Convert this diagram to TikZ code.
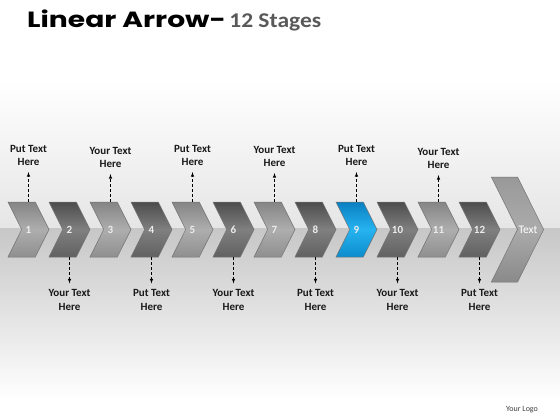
\documentclass[tikz,border=0pt]{standalone}
\usepackage{fontspec}
\setmainfont{Carlito}
\newfontfamily\headfont{Poppins}[FakeStretch=1.28]
\newfontfamily\stagefont{Carlito}[FakeStretch=1.12]
\usetikzlibrary{shapes.symbols,positioning}

\tikzset{	PixAxes/.style={x={(1pt,0pt)},y={(0pt,-1pt)}},
	chev/.style={signal, signal from=west, signal to=east, signal pointer angle=127,
		minimum width=41pt, minimum height=55pt, inner sep=0pt, draw=black!55, line width=0.5pt,
		font=\bfseries\fontsize{11}{13}\selectfont, text=white!93!black},
	chevLight/.style={chev, top color=black!48, bottom color=black!44, middle color=black!32},
	chevDark/.style={chev, top color=black!70, bottom color=black!62, middle color=black!50},
	chevBlue/.style={chev, top color=blueD, bottom color=blueM, middle color=blueL},
	txtlbl/.style={align=center, font=\bfseries\fontsize{11}{13.5}\selectfont, text=black!90, inner sep=2pt},
	dashArr/.style={->, densely dashed, line width=0.6pt, shorten >=4pt}
				}
\definecolor{blueD}{rgb}{0.04,0.50,0.76}
\definecolor{blueM}{rgb}{0.05,0.55,0.80}
\definecolor{blueL}{rgb}{0.15,0.70,0.94}

\begin{document}
\begin{tikzpicture}[>=latex, PixAxes]

	% hintergrund
	\useasboundingbox (0,0) rectangle (560,420);
	\fill[white] (0,0) rectangle (560,420);
	\shade[top color=white, bottom color=black!10] (0,80) rectangle (560,228);
	\shade[top color=black!22, bottom color=white] (0,228) rectangle (560,400);

	% titel
	\node[anchor=base west, inner sep=0pt, font=\headfont\bfseries\fontsize{22}{26}\selectfont] (title) at (27,27.5) {Linear Arrow-};
	\node[anchor=base west, inner sep=0pt, text=black!65, font=\stagefont\bfseries\fontsize{21}{26}\selectfont] (stages) at ([xshift=3pt]title.base east) {12 Stages};

	% pfeile 1-12
	\node[chevLight] (s1) at (28.5,229.5) {1};
	\node[chevDark] (s2) at (69.5,229.5) {2};
	\node[chevLight] (s3) at (110.5,229.5) {3};
	\node[chevDark] (s4) at (151.5,229.5) {4};
	\node[chevLight] (s5) at (192.5,229.5) {5};
	\node[chevDark] (s6) at (233.5,229.5) {6};
	\node[chevLight] (s7) at (274.5,229.5) {7};
	\node[chevDark] (s8) at (315.5,229.5) {8};
	\node[chevBlue] (s9) at (356.5,229.5) {9};
	\node[chevDark] (s10) at (397.5,229.5) {10};
	\node[chevLight] (s11) at (438.5,229.5) {11};
	\node[chevDark] (s12) at (479.5,229.5) {12};

	% grosser pfeil
	\node[chev, minimum width=51pt, minimum height=105pt, top color=black!40, bottom color=black!46, middle color=black!33] (s13) at (517.5,229.5) {};
	\node[text=white, font=\fontsize{11.5}{13}\selectfont, inner sep=0pt] (fin) at (528,229.5) {Text};

	% texte oben
	\node[txtlbl] (t1) at (28.5,155.5) {Put Text\\Here};
	\node[txtlbl] (t3) at (110.5,157.5) {Your Text\\Here};
	\node[txtlbl] (t5) at (192.5,155.5) {Put Text\\Here};
	\node[txtlbl] (t7) at (274.5,156.5) {Your Text\\Here};
	\node[txtlbl] (t9) at (356.5,155.5) {Put Text\\Here};
	\node[txtlbl] (t11) at (438.5,158.5) {Your Text\\Here};

	\draw[dashArr] (s1.north) -- (s1.north |- t1.south);
	\draw[dashArr] (s3.north) -- (s3.north |- t3.south);
	\draw[dashArr] (s5.north) -- (s5.north |- t5.south);
	\draw[dashArr] (s7.north) -- (s7.north |- t7.south);
	\draw[dashArr] (s9.north) -- (s9.north |- t9.south);
	\draw[dashArr] (s11.north) -- (s11.north |- t11.south);

	% texte unten
	\node[txtlbl] (b2) at (69.5,300) {Your Text\\Here};
	\node[txtlbl] (b4) at (151.5,300) {Put Text\\Here};
	\node[txtlbl] (b6) at (233.5,300) {Your Text\\Here};
	\node[txtlbl] (b8) at (315.5,300) {Put Text\\Here};
	\node[txtlbl] (b10) at (397.5,300) {Your Text\\Here};
	\node[txtlbl] (b12) at (479.5,300) {Put Text\\Here};

	\draw[dashArr] (s2.south) -- (s2.south |- b2.north);
	\draw[dashArr] (s4.south) -- (s4.south |- b4.north);
	\draw[dashArr] (s6.south) -- (s6.south |- b6.north);
	\draw[dashArr] (s8.south) -- (s8.south |- b8.north);
	\draw[dashArr] (s10.south) -- (s10.south |- b10.north);
	\draw[dashArr] (s12.south) -- (s12.south |- b12.north);

	% logo
	\node[text=black!75, font=\fontsize{8}{9}\selectfont] (logo) at (522,410) {Your Logo};
\end{tikzpicture}
\end{document}
